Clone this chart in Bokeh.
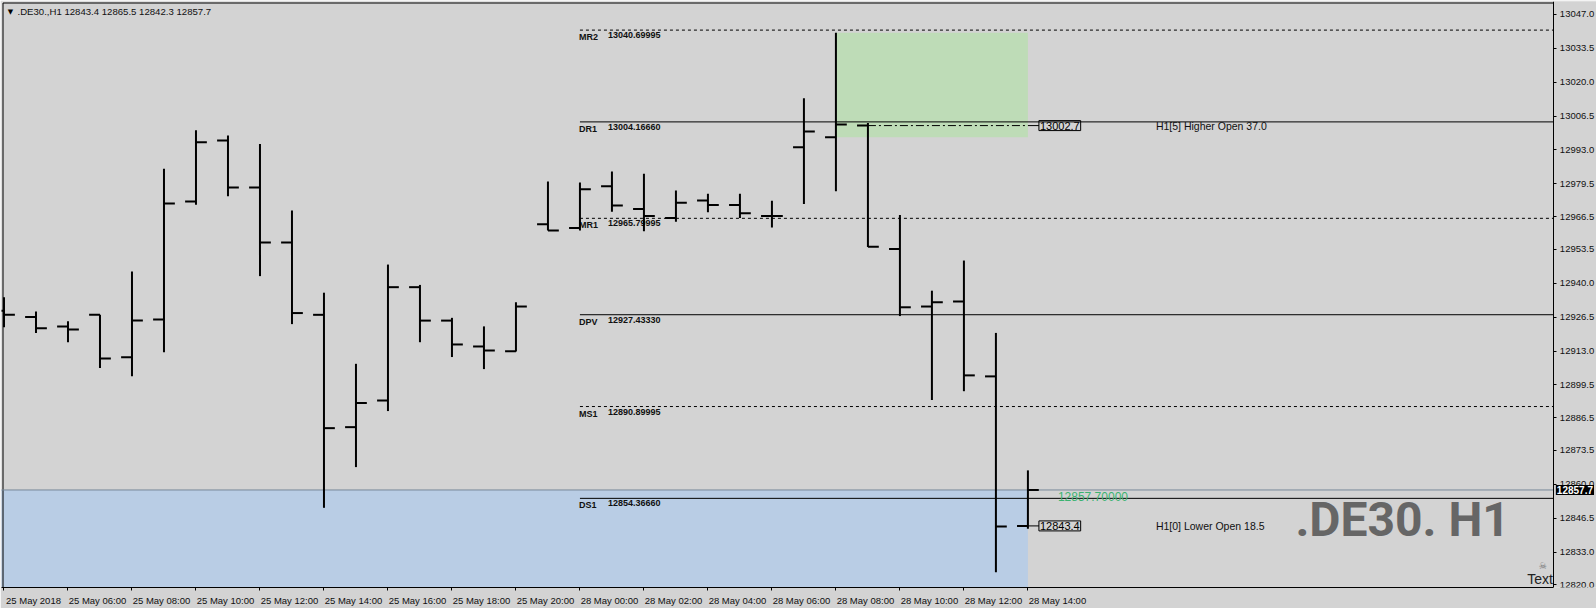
from bokeh.plotting import figure
from bokeh.models import Range1d, FixedTicker, NumeralTickFormatter, Label
from bokeh.core.properties import value
from bokeh.embed import file_html
from bokeh.resources import INLINE

# ---------------- data ----------------
symbol = ".DE30.,H1"
watermark = ".DE30. H1"

times = (["25 May %02d:00" % h for h in range(4, 22)] +
         ["28 May %02d:00" % h for h in range(0, 15)])

opens = [12929.0, 12926.5, 12922.8, 12927.4, 12910.5, 12925.5, 12972.5, 12996.8,
         12978.1, 12956.2, 12927.4, 12882.7, 12893.3, 12938.4, 12925.1, 12914.8,
         12912.9, 12963.4, 12961.9, 12978.6, 12969.5, 12965.9, 12972.9, 12971.1,
         12966.7, 12994.1, 12998.1, 13002.7, 12953.6, 12930.7, 12932.7, 12902.9,
         12843.4]
highs = [12934.4, 12928.7, 12924.8, 12927.4, 12944.6, 12985.5, 13000.8, 12998.8,
         12995.4, 12968.9, 12936.2, 12907.9, 12947.4, 12939.3, 12926.2, 12922.8,
         12932.4, 12980.5, 12980.1, 12984.4, 12983.5, 12976.9, 12975.6, 12975.6,
         12972.8, 13013.6, 13039.6, 13003.7, 12967.1, 12937.0, 12949.0, 12920.2,
         12865.5]
lows = [12922.5, 12920.2, 12916.5, 12906.2, 12903.0, 12912.5, 12971.2, 12974.6,
        12942.8, 12923.7, 12850.6, 12866.8, 12889.1, 12916.5, 12910.6, 12905.8,
        12912.8, 12961.0, 12961.0, 12968.4, 12960.7, 12964.4, 12968.2, 12965.9,
        12962.1, 12971.5, 12976.6, 12954.4, 12926.9, 12893.5, 12897.0, 12825.0,
        12842.3]
closes = [12927.4, 12922.1, 12921.6, 12910.0, 12925.1, 12971.7, 12996.1, 12978.1,
          12956.2, 12928.1, 12882.3, 12892.3, 12938.4, 12925.1, 12915.6, 12913.2,
          12930.7, 12961.0, 12977.4, 12970.9, 12966.7, 12972.0, 12971.1, 12967.8,
          12966.7, 13000.3, 13003.1, 12954.5, 12930.4, 12932.4, 12903.3, 12843.2,
          12857.7]

pivot_names = ["MR2", "DR1", "MR1", "DPV", "MS1", "DS1"]
pivot_values = [13040.69995, 13004.16660, 12965.79995, 12927.43330, 12890.89995, 12854.36660]

x_tick_labels = ["25 May 2018", "25 May 06:00", "25 May 08:00", "25 May 10:00",
                 "25 May 12:00", "25 May 14:00", "25 May 16:00", "25 May 18:00",
                 "25 May 20:00", "28 May 00:00", "28 May 02:00", "28 May 04:00",
                 "28 May 06:00", "28 May 08:00", "28 May 10:00", "28 May 12:00",
                 "28 May 14:00"]
x_tick_times = ["25 May 04:00", "25 May 06:00", "25 May 08:00", "25 May 10:00",
                "25 May 12:00", "25 May 14:00", "25 May 16:00", "25 May 18:00",
                "25 May 20:00", "28 May 00:00", "28 May 02:00", "28 May 04:00",
                "28 May 06:00", "28 May 08:00", "28 May 10:00", "28 May 12:00",
                "28 May 14:00"]
y_tick_values = [13047.0, 13033.5, 13020.0, 13006.5, 12993.0, 12979.5, 12966.5,
                 12953.5, 12940.0, 12926.5, 12913.0, 12899.5, 12886.5, 12873.5,
                 12860.0, 12846.5, 12833.0, 12820.0]

signal_texts = ["H1[5] Higher Open 37.0", "H1[0] Lower Open 18.5"]
signal_shifts = [5, 0]

# ---------------- styles / layout ----------------
BG = "#D3D3D3"
BLUE = "#B9CDE5"
GREEN = "#BEDCB7"
BID = "#778899"
INK = "#101010"
SANS = "Liberation Sans"

W, H = 1596, 608
# the frame covers the whole width; the price axis is pinned inside it
x_start, x_end = -0.078, 49.77
axis_x = 48.4375
y_start, y_end = 12818.89, 13052.08
px_per_bar = (W - 1) / (x_end - x_start)
px_per_pt = (H - 1 - 21) / (y_end - y_start)
border_x = x_start + 1.5 / px_per_bar
border_y = y_end - 1.5 / px_per_pt
TICK = 0.34
LABEL_SHIFT = 29.5 / px_per_bar

n = len(opens)
last = n - 1
xs = list(range(n))
day_start = times.index("28 May 00:00")

p = figure(width=W, height=H, output_backend="svg", toolbar_location=None,
           x_range=Range1d(x_start, x_end), y_range=Range1d(y_start, y_end),
           y_axis_location="right", min_border_left=1, min_border_top=1,
           min_border_right=0, min_border_bottom=21)
p.background_fill_color = BG
p.border_fill_color = BG
p.outline_line_color = None
p.xgrid.visible = False
p.ygrid.visible = False

# x axis: labels start at the tick (MT4 style)
xa = p.xaxis[0]
tick_bars = [times.index(t) for t in x_tick_times]
label_pos = [b + LABEL_SHIFT for b in tick_bars]
xa.ticker = FixedTicker(ticks=label_pos, minor_ticks=tick_bars)
xa.major_label_overrides = {pos: lab for pos, lab in zip(label_pos, x_tick_labels)}
xa.bounds = (x_start, axis_x)
xa.major_tick_out = 0
xa.major_tick_in = 0
xa.minor_tick_out = 3
xa.minor_tick_in = 0
xa.minor_tick_line_color = "black"
xa.major_label_standoff = 4
xa.axis_line_color = "black"
xa.major_label_text_font = SANS
xa.major_label_text_font_size = "9.5px"
xa.major_label_text_color = INK

ya = p.yaxis[0]
ya.fixed_location = axis_x
ya.ticker = FixedTicker(ticks=y_tick_values)
ya.formatter = NumeralTickFormatter(format="0.0")
ya.major_tick_out = 3
ya.major_tick_in = 0
ya.minor_tick_out = 0
ya.minor_tick_in = 0
ya.major_label_standoff = 3
ya.axis_line_color = "black"
ya.major_tick_line_color = "black"
ya.major_label_text_font = SANS
ya.major_label_text_font_size = "9.5px"
ya.major_label_text_color = INK

# zones
p.quad(left=[x_start - 1], right=[last], bottom=[y_start - 10], top=[closes[last]],
       fill_color=BLUE, line_color=None)
k5 = last - signal_shifts[0]
zone_bar = k5 - 1
p.quad(left=[zone_bar], right=[last], bottom=[opens[zone_bar]], top=[highs[zone_bar]],
       fill_color=GREEN, line_color=None)

# chart window border (left / top)
p.segment(x0=[border_x, border_x], x1=[border_x, axis_x], y0=[y_start, border_y],
          y1=[border_y, border_y], line_color="black", line_width=1)

# bid line
p.segment(x0=[x_start - 1], x1=[axis_x], y0=[closes[last]], y1=[closes[last]],
          line_color=BID, line_width=1)

# pivot lines
solid_v = [v for nm, v in zip(pivot_names, pivot_values) if nm.startswith("D")]
dot_v = [v for nm, v in zip(pivot_names, pivot_values) if not nm.startswith("D")]
p.segment(x0=[day_start] * len(solid_v), x1=[axis_x] * len(solid_v), y0=solid_v, y1=solid_v,
          line_color="black", line_width=1)
p.segment(x0=[day_start] * len(dot_v), x1=[axis_x] * len(dot_v), y0=dot_v, y1=dot_v,
          line_color="black", line_width=1, line_dash="3 3")
p.text(x=[day_start] * len(pivot_names), y=pivot_values, text=pivot_names,
       text_baseline="top", y_offset=2, x_offset=-1,
       text_font=value(SANS), text_font_size="9px", text_font_style="bold", text_color=INK)
p.text(x=[day_start] * len(pivot_names), y=pivot_values, text=["%.5f" % v for v in pivot_values],
       text_baseline="top", y_offset=2, x_offset=28,
       text_font=value(SANS), text_font_size="9px", text_font_style="bold", text_color=INK)

# signal lines
box_gap = 11.0 / px_per_bar
p.segment(x0=[k5], x1=[last], y0=[opens[k5]], y1=[opens[k5]], line_color="black",
          line_width=1, line_dash="8 3 2 3")
sig_levels = [opens[last - s] for s in signal_shifts]
p.segment(x0=[last] * 2, x1=[last + box_gap] * 2, y0=sig_levels, y1=sig_levels,
          line_color="black", line_width=1)

# OHLC bars
p.segment(x0=xs, y0=lows, x1=xs, y1=highs, line_color="black", line_width=2)
p.segment(x0=[x - TICK for x in xs], y0=opens, x1=xs, y1=opens, line_color="black", line_width=2)
p.segment(x0=xs, y0=closes, x1=[x + TICK for x in xs], y1=closes, line_color="black", line_width=2)

for lvl, txt in zip(sig_levels, signal_texts):
    p.add_layout(Label(x=last, y=lvl, x_offset=11, text="%.1f" % lvl, text_baseline="middle",
                       text_font=SANS, text_font_size="11px", text_color="black",
                       border_line_color="black", border_line_width=1, padding=1))
    p.add_layout(Label(x=last, y=lvl, x_offset=128, text=txt, text_baseline="middle",
                       text_font=SANS, text_font_size="10.5px", text_color=INK))

# current price green text
p.text(x=[last], y=[closes[last]], text=["%.5f" % closes[last]], x_offset=30, y_offset=2,
       text_baseline="top", text_font=value(SANS), text_font_size="12px", text_color="#3CB371")

# watermark
p.text(x=[axis_x], y=[y_start], text=[watermark], x_offset=-44, y_offset=-68,
       text_align="right", text_baseline="alphabetic", text_font=value("Roboto"),
       text_font_size="48px", text_font_style="bold", text_color="#666666")

# corner "Text" object
p.text(x=[axis_x], y=[y_start], text=["Text"], x_offset=-1, y_offset=-1,
       text_align="right", text_baseline="bottom", text_font=value(SANS),
       text_font_size="14px", text_color="#222222")
p.text(x=[axis_x], y=[y_start], text=["\u2620"], x_offset=-11, y_offset=-17,
       text_align="center", text_baseline="bottom", text_font=value("DejaVu Sans"),
       text_font_size="9px", text_color="#707070")

# title
title = "%s  %.1f %.1f %.1f %.1f" % (symbol, opens[last], highs[last], lows[last], closes[last])
p.text(x=[x_start], y=[y_end], text=["\u25BC"], x_offset=9, y_offset=10,
       text_align="center", text_baseline="middle", text_font=value("DejaVu Sans"),
       text_font_size="7px", text_color="black")
p.text(x=[x_start], y=[y_end], text=[title], x_offset=16, y_offset=10,
       text_baseline="middle", text_font=value(SANS), text_font_size="9.6px", text_color=INK)

# current price tag on the price axis
p.add_layout(Label(x=axis_x, y=closes[last], x_offset=2, text="%.1f" % closes[last],
                   text_baseline="middle", text_font=SANS, text_font_size="10px",
                   text_font_style="bold", text_color="white",
                   background_fill_color="black", padding=1))

open("out.html", "w").write(file_html(p, INLINE))
